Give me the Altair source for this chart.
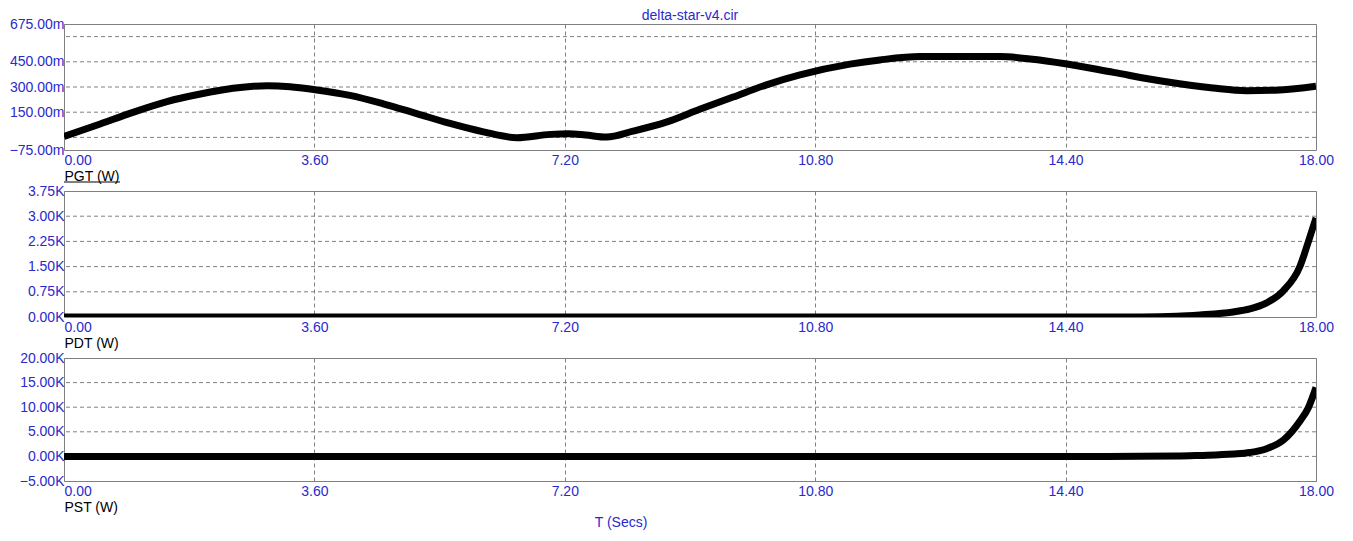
import altair as alt
import pandas as pd

# ---- data ----
t_pgt = [0.00, 0.52, 0.99, 1.48, 1.96, 2.43, 2.92, 3.25, 3.61, 4.11, 4.59, 5.07, 5.55,
         6.03, 6.51, 6.99, 7.25, 7.50, 7.80, 8.18, 8.67, 9.14, 9.62, 10.10, 10.58,
         11.30, 11.73, 12.31, 13.46, 13.89, 14.42, 15.09, 15.80, 16.52, 17.00, 17.48, 18.00]
pgt_m = [6, 80, 149, 213, 258, 292, 308, 302, 284, 250, 200, 142, 83,
         33, -2, 18, 22, 14, 2, 37, 92, 167, 240, 313, 372,
         436, 461, 481, 481, 467, 437, 387, 334, 294, 278, 282, 304]

t_pdt = [0.00, 15.50, 16.00, 16.33, 16.81, 17.05, 17.29, 17.53, 17.77, 17.89, 18.00]
pdt_k = [0.00, 0.00, 0.02, 0.06, 0.15, 0.24, 0.42, 0.78, 1.51, 2.24, 2.95]

t_pst = [0.00, 15.00, 16.00, 16.33, 16.81, 17.05, 17.29, 17.53, 17.77, 17.89, 18.00]
pst_k = [0.00, 0.00, 0.07, 0.20, 0.48, 0.80, 1.57, 3.30, 7.20, 9.90, 14.00]

x_ticks = [0.0, 3.6, 7.2, 10.8, 14.4, 18.0]
pgt_labels = [-75, 150, 300, 450, 675]
pgt_grid = [0, 150, 300, 450, 600]
pdt_labels = [0.0, 0.75, 1.5, 2.25, 3.0, 3.75]
pdt_grid = [0.75, 1.5, 2.25, 3.0]
pst_labels = [-5, 0, 5, 10, 15, 20]
pst_grid = [0, 5, 10, 15]

title_text = "delta-star-v4.cir"
x_title = "T (Secs)"
names = ["PGT (W)", "PDT (W)", "PST (W)"]

BLUE = "#2a2acc"
GRAY = "#808080"
FONT = "Liberation Sans"
W = 1252


def panel(t, v, ylabels, ygrid, domain, suffix, name):
    df = pd.DataFrame({"t": t, "v": v})
    xscale = alt.Scale(domain=[0, 18], nice=False, zero=False)
    yscale = alt.Scale(domain=domain, nice=False, zero=False)
    xaxis = alt.Axis(
        values=x_ticks, labelExpr="format(datum.value, '.2f')",
        grid=True, gridDash=[4, 3], gridColor=GRAY, gridWidth=1,
        ticks=False, domain=False,
        labelColor=BLUE, labelFont=FONT, labelFontSize=14, labelPadding=3,
        labelAlign={"condition": {"test": "datum.value == 0", "value": "left"}, "value": "center"},
        title=name, titleFont=FONT, titleFontSize=14, titleFontWeight="normal",
        titleColor="black", titleAnchor="start", titleAlign="left",
        titleX=0, titleY=30, titleBaseline="alphabetic",
    )
    yaxis = alt.Axis(
        values=ylabels, labelExpr="format(datum.value, '.2f') + '" + suffix + "'",
        grid=False, ticks=False, domain=False,
        labelColor=BLUE, labelFont=FONT, labelFontSize=14, labelPadding=0,
        title=None,
    )
    grid = alt.Chart(pd.DataFrame({"g": ygrid})).mark_rule(
        color=GRAY, strokeDash=[4, 3], strokeWidth=1
    ).encode(y=alt.Y("g:Q", scale=yscale, axis=yaxis))
    line = alt.Chart(df).mark_line(
        color="black", strokeWidth=7, clip=True, interpolate="monotone"
    ).encode(
        x=alt.X("t:Q", scale=xscale, axis=xaxis),
        y=alt.Y("v:Q", scale=yscale, axis=yaxis),
    )
    return grid, line


g1, l1 = panel(t_pgt, pgt_m, pgt_labels, pgt_grid, [-75, 675], "m", names[0])
underline = alt.Chart(pd.DataFrame({"a": [0]})).mark_rule(color="black", strokeWidth=1).encode(
    x=alt.value(0), x2=alt.value(56), y=alt.value(158)
)
p1 = alt.layer(g1, l1, underline).properties(
    width=W, height=126,
    title=alt.TitleParams(title_text, frame="group", anchor="middle", font=FONT,
                          fontSize=14, fontWeight="normal", color=BLUE, offset=-6),
)

g2, l2 = panel(t_pdt, pdt_k, pdt_labels, pdt_grid, [0, 3.75], "K", names[1])
p2 = alt.layer(g2, l2).properties(width=W, height=126)

g3, l3 = panel(t_pst, pst_k, pst_labels, pst_grid, [-5, 20], "K", names[2])
ttext = alt.Chart(pd.DataFrame({"a": [0]})).mark_text(
    text=x_title, color=BLUE, font=FONT, fontSize=14, align="center", baseline="alphabetic"
).encode(x=alt.value(557), y=alt.value(169))
p3 = alt.layer(g3, l3, ttext).properties(width=W, height=123)

chart = alt.vconcat(p1, p2, p3, spacing=41, bounds="flush").properties(
    padding=0, background="white"
).configure_view(stroke=GRAY, strokeWidth=1)

chart.save("out.html", embed_options={"renderer": "svg", "actions": False})
